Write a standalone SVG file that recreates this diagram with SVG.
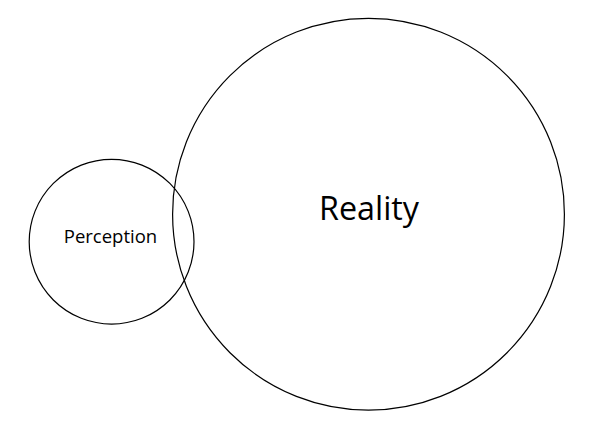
<svg xmlns="http://www.w3.org/2000/svg" width="599" height="434" viewBox="0 0 599 434">
<style>
.c{fill:none;stroke:#000;stroke-width:1.2}
.t{font-family:"Open Sans","Noto Sans",sans-serif;fill:#000;text-anchor:middle}
</style>
<rect width="599" height="434" fill="#fff"/>
<g id="reality">
<circle class="c" cx="368.5" cy="214.2" r="195.9"/>
<text class="t" x="369" y="220" font-size="32.3">Reality</text>
</g>
<g id="perception">
<circle class="c" cx="111.6" cy="241.7" r="82.4"/>
<text class="t" x="110.5" y="242.7" font-size="18.5">Perception</text>
</g>
<g id="connectors"/>
</svg>
